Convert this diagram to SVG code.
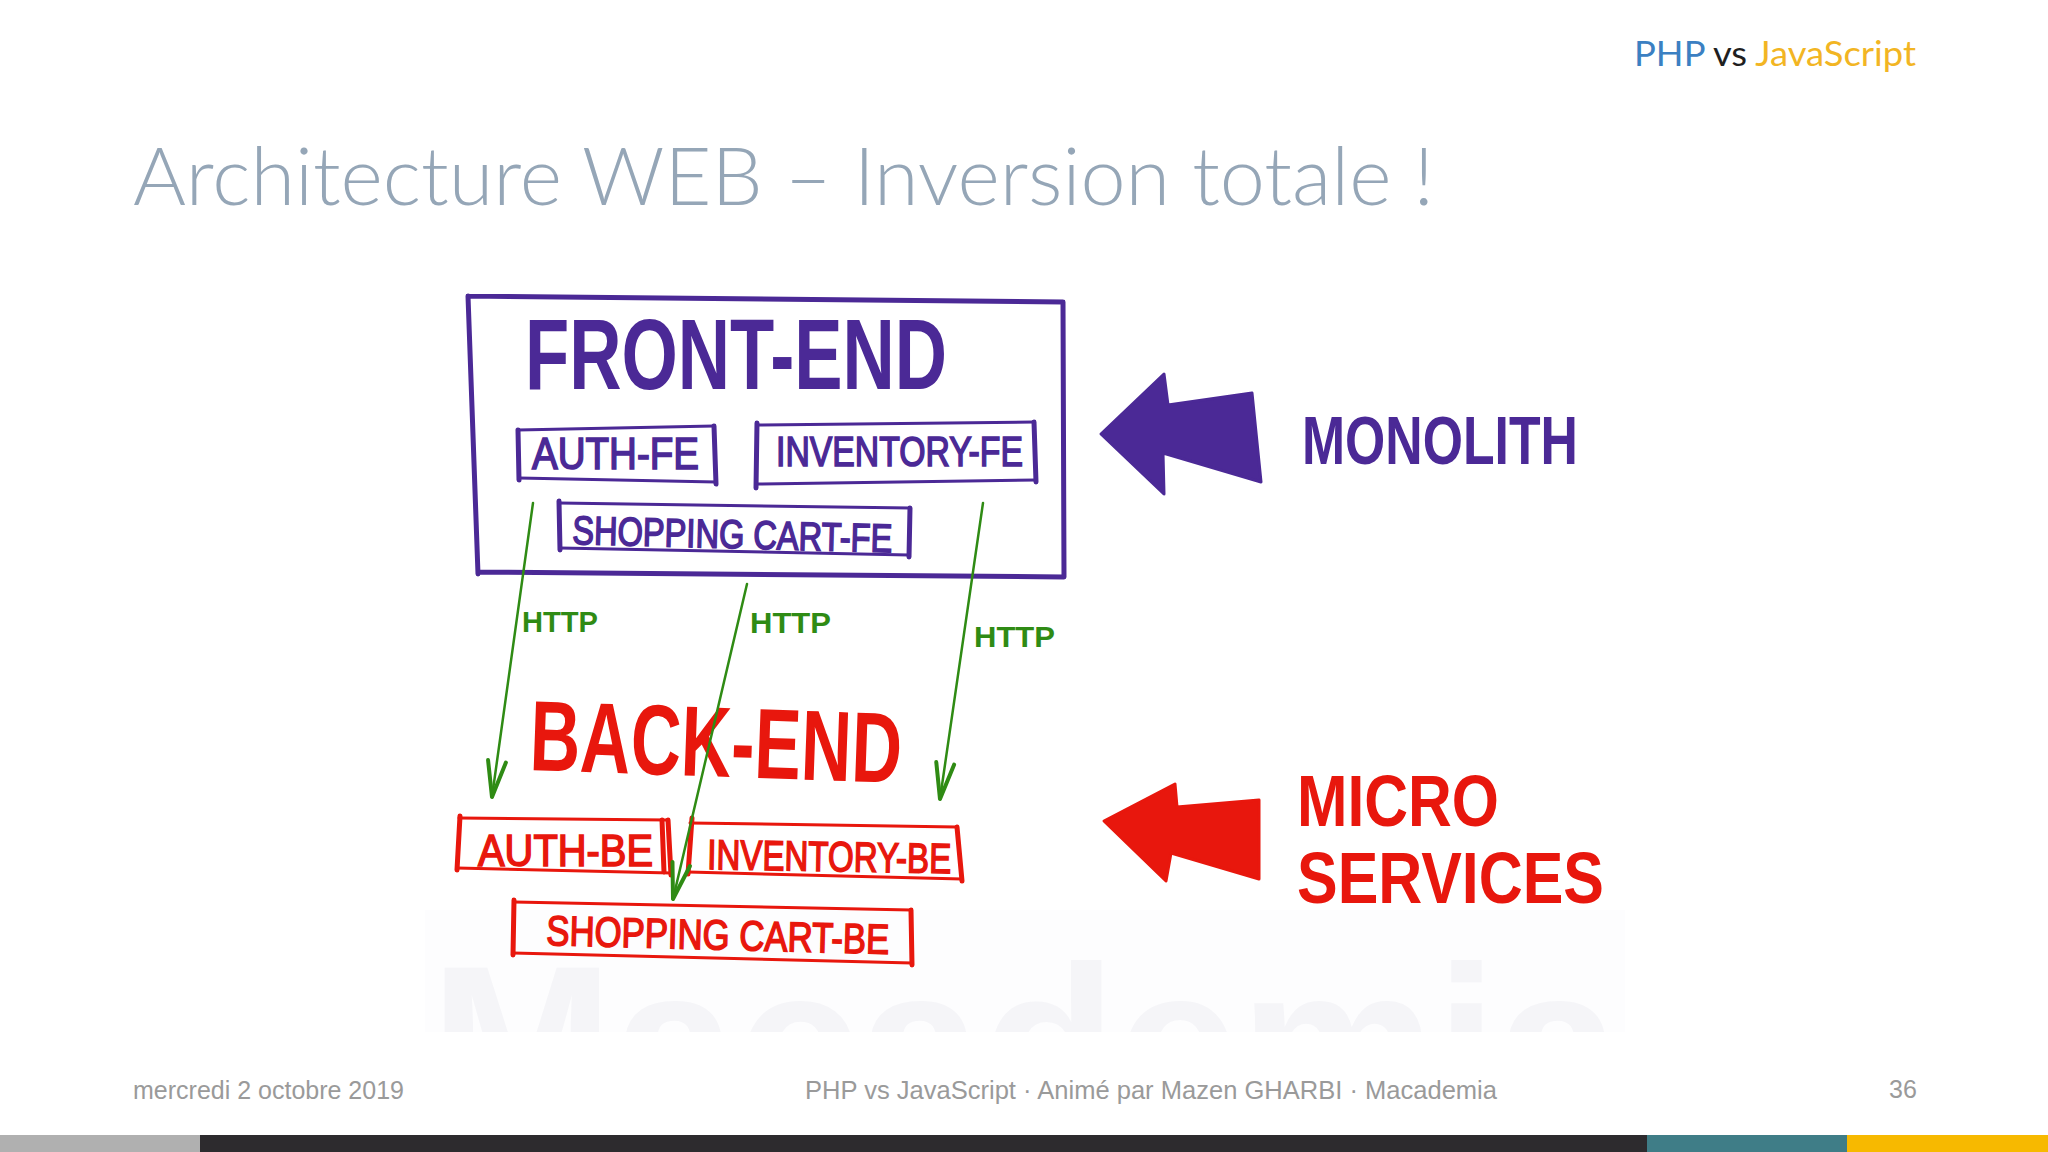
<svg xmlns="http://www.w3.org/2000/svg" width="2048" height="1152" viewBox="0 0 2048 1152">
<defs>
<style>
.hand{font-family:"Liberation Sans","DejaVu Sans",sans-serif;font-weight:bold}
.sm{font-weight:normal;stroke-width:1.6}
.pu{fill:#4b2996}
.sm.pu{stroke:#4b2996}
.re{fill:#e8170d}
.sm.re{stroke:#e8170d}
.gr{fill:#2f8b14}
.pbox{fill:none;stroke:#4b2996;stroke-linecap:round;stroke-linejoin:round}
.rbox{fill:none;stroke:#e8170d;stroke-linecap:round;stroke-linejoin:round}
.edge{fill:none;stroke:#2f8b14;stroke-width:2.5;stroke-linecap:round}
.thin{stroke-width:3}
.bar{stroke-width:5}
.foot{font-family:"Liberation Sans",Arial,sans-serif;font-size:25px;fill:#9a9a9a}
</style>
<marker id="vhead" markerUnits="userSpaceOnUse" markerWidth="50" markerHeight="30" refX="0" refY="0" viewBox="-40 -15 45 30" orient="auto" overflow="visible">
<path d="M -36 -9 L 0 0 L -36 9" fill="none" stroke="#2f8b14" stroke-width="4" stroke-linecap="round" stroke-linejoin="round"/>
</marker>
<clipPath id="wm"><rect x="425" y="910" width="1200" height="122"/></clipPath>
</defs>
<rect width="2048" height="1152" fill="#ffffff"/>

<!-- watermark -->
<g id="watermark" clip-path="url(#wm)">
<rect x="425" y="910" width="1200" height="122" fill="#fdfdfe"/>
<text x="430" y="1120" font-family="Liberation Sans, sans-serif" font-weight="bold" font-size="220" fill="#f5f5f8" textLength="1190" lengthAdjust="spacingAndGlyphs">Macademia</text>
</g>

<!-- header -->
<g id="header">
<text x="1634" y="66" font-family="Lato, 'Open Sans', sans-serif" font-size="35" textLength="282" lengthAdjust="spacingAndGlyphs"><tspan fill="#3b80c2">PHP</tspan><tspan fill="#1f1f1f"> vs </tspan><tspan fill="#f2b523">JavaScript</tspan></text>
<text x="133" y="205" font-family="Lato, 'Open Sans', sans-serif" font-weight="300" font-size="80" fill="#95a6b7" textLength="1301" lengthAdjust="spacingAndGlyphs">Architecture WEB – Inversion totale !</text>
</g>

<!-- front-end container -->
<g id="front-end">
<path class="pbox bar" d="M468 296 L1063 302 M1063 302 L1064 577 M478 572 L1064 577 M468 296 L478 574"/>
<text class="hand pu" x="525" y="389" font-size="100" textLength="422" lengthAdjust="spacingAndGlyphs">FRONT-END</text>
</g>

<g id="auth-fe">
<path class="pbox thin" d="M518 430 L714 426 M519 478 L716 482"/>
<path class="pbox bar" d="M518 430 L519 480 M714 426 L716 484"/>
<text class="hand sm pu" x="532" y="469" font-size="44" textLength="167" lengthAdjust="spacingAndGlyphs">AUTH-FE</text>
</g>

<g id="inventory-fe">
<path class="pbox thin" d="M757 425 L1034 422 M757 484 L1036 480"/>
<path class="pbox bar" d="M757 423 L756 488 M1034 422 L1036 482"/>
<text class="hand sm pu" x="776" y="466" font-size="42" textLength="247" lengthAdjust="spacingAndGlyphs">INVENTORY-FE</text>
</g>

<g id="shopping-cart-fe">
<path class="pbox thin" d="M559 503 L910 508 M560 548 L909 555"/>
<path class="pbox bar" d="M559 501 L560 550 M910 508 L909 557"/>
<text class="hand sm pu" x="572" y="544" font-size="40" textLength="320" lengthAdjust="spacingAndGlyphs" transform="rotate(1.5 572 544)">SHOPPING CART-FE</text>
</g>

<!-- monolith -->
<g id="monolith">
<polygon points="1101,434 1164,374 1168,405 1252,393 1261,482 1163,453 1164,494" fill="#4b2996" stroke="#4b2996" stroke-width="3" stroke-linejoin="round"/>
<text class="hand pu" x="1302" y="464" font-size="68" textLength="276" lengthAdjust="spacingAndGlyphs">MONOLITH</text>
</g>

<!-- back-end -->
<g id="back-end">
<text class="hand re" x="529" y="770" font-size="100" textLength="372" lengthAdjust="spacingAndGlyphs" transform="rotate(2 529 770)">BACK-END</text>
</g>

<g id="auth-be">
<path class="rbox thin" d="M459 818 L668 820 M457 868 L671 873"/>
<path class="rbox bar" d="M460 816 L457 870 M668 820 L671 875 M662 820 L664 872"/>
<text class="hand sm re" x="478" y="866" font-size="44" textLength="175" lengthAdjust="spacingAndGlyphs">AUTH-BE</text>
</g>

<g id="inventory-be">
<path class="rbox thin" d="M690 823 L957 827 M688 872 L962 879"/>
<path class="rbox bar" d="M692 818 L688 874 M957 827 L962 881"/>
<text class="hand sm re" x="707" y="869" font-size="42" textLength="244" lengthAdjust="spacingAndGlyphs" transform="rotate(1 707 869)">INVENTORY-BE</text>
</g>

<g id="shopping-cart-be">
<path class="rbox thin" d="M514 902 L911 910 M513 953 L912 963"/>
<path class="rbox bar" d="M514 900 L513 955 M911 910 L912 965"/>
<text class="hand sm re" x="546" y="945" font-size="42" textLength="343" lengthAdjust="spacingAndGlyphs" transform="rotate(1.5 546 945)">SHOPPING CART-BE</text>
</g>

<!-- micro services -->
<g id="micro-services">
<polygon points="1104,821 1175,784 1177,807 1259,800 1259,879 1171,853 1166,881" fill="#e8170d" stroke="#e8170d" stroke-width="3" stroke-linejoin="round"/>
<text class="hand re" x="1297" y="826" font-size="72" textLength="202" lengthAdjust="spacingAndGlyphs">MICRO</text>
<text class="hand re" x="1297" y="903" font-size="72" textLength="307" lengthAdjust="spacingAndGlyphs">SERVICES</text>
</g>

<!-- connectors -->
<g id="connectors">
<line class="edge" x1="533" y1="503" x2="492" y2="797" marker-end="url(#vhead)"/>
<line class="edge" x1="747" y1="584" x2="673" y2="899" marker-end="url(#vhead)"/>
<line class="edge" x1="983" y1="503" x2="940" y2="799" marker-end="url(#vhead)"/>
<text class="hand gr" x="522" y="632" font-size="30" textLength="76" lengthAdjust="spacingAndGlyphs">HTTP</text>
<text class="hand gr" x="750" y="633" font-size="30" textLength="81" lengthAdjust="spacingAndGlyphs">HTTP</text>
<text class="hand gr" x="974" y="647" font-size="30" textLength="81" lengthAdjust="spacingAndGlyphs">HTTP</text>
</g>

<!-- footer -->
<g id="footer">
<text class="foot" x="133" y="1099">mercredi 2 octobre 2019</text>
<text class="foot" x="805" y="1099" textLength="692" lengthAdjust="spacingAndGlyphs">PHP vs JavaScript · Animé par Mazen GHARBI · Macademia</text>
<text class="foot" x="1889" y="1098">36</text>
<rect x="0" y="1135" width="200" height="17" fill="#b0b0b0"/>
<rect x="200" y="1135" width="1447" height="17" fill="#2d2b2e"/>
<rect x="1647" y="1135" width="200" height="17" fill="#3f7d87"/>
<rect x="1847" y="1135" width="201" height="17" fill="#f7b900"/>
</g>
</svg>
